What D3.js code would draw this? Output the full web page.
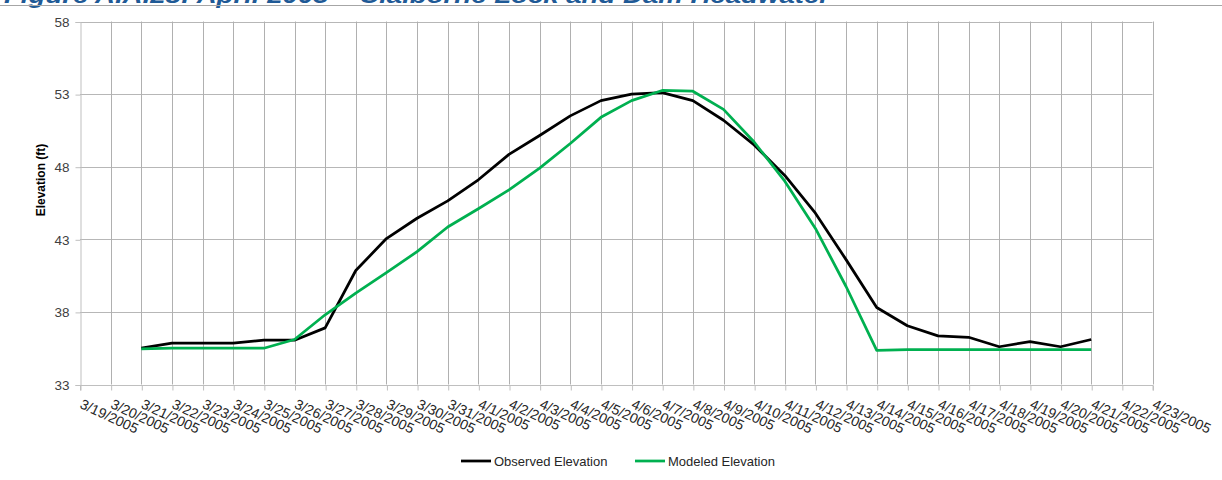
<!DOCTYPE html>
<html>
<head>
<meta charset="utf-8">
<script src="https://cdn.jsdelivr.net/npm/d3@7"></script>
<style>
  html, body { margin: 0; padding: 0; background: #fff; }
  svg { display: block; font-family: "Liberation Sans", Arial, sans-serif; }
</style>
</head>
<body>
<svg id="chart" width="1222" height="480"></svg>
<script>
const titleText = "Figure A.A.28: April 2005 \u2013 Claiborne Lock and Dam Headwater";
const dates = ["3/19/2005","3/20/2005","3/21/2005","3/22/2005","3/23/2005","3/24/2005","3/25/2005",
  "3/26/2005","3/27/2005","3/28/2005","3/29/2005","3/30/2005","3/31/2005","4/1/2005","4/2/2005",
  "4/3/2005","4/4/2005","4/5/2005","4/6/2005","4/7/2005","4/8/2005","4/9/2005","4/10/2005",
  "4/11/2005","4/12/2005","4/13/2005","4/14/2005","4/15/2005","4/16/2005","4/17/2005","4/18/2005",
  "4/19/2005","4/20/2005","4/21/2005","4/22/2005","4/23/2005"];
const observed = [null, null,
  35.5, 35.85, 35.85, 35.85, 36.05, 36.05, 36.9, 40.85, 43.05, 44.45, 45.65, 47.1, 48.85,
  50.15, 51.5, 52.55, 53.0, 53.1, 52.55, 51.2, 49.5, 47.4, 44.8, 41.6, 38.3, 37.05, 36.35,
  36.25, 35.6, 35.95, 35.6, 36.1, null, null];
const modeled = [null, null,
  35.45, 35.5, 35.5, 35.5, 35.5, 36.1, 37.8, 39.3, 40.7, 42.15, 43.85, 45.1, 46.4,
  47.9, 49.6, 51.4, 52.55, 53.25, 53.2, 51.95, 49.7, 47.0, 43.75, 39.75, 35.35, 35.4, 35.4,
  35.4, 35.4, 35.4, 35.4, 35.4, null, null];
const yTicks = [33, 38, 43, 48, 53, 58];
const seriesNames = ["Observed Elevation", "Modeled Elevation"];
const seriesColors = ["#000000", "#00b050"];
const yTitle = "Elevation (ft)";

const svg = d3.select("#chart");
const pLeft = 80, pRight = 1152.5, pTop = 21.5, pBottom = 384.5;

const x = d3.scalePoint().domain(dates).range([pLeft, pRight]);
const y = d3.scaleLinear().domain([33, 58]).range([pBottom, pTop]);

// title (mostly cut off at top)
svg.append("text")
  .attr("x", 4).attr("y", 3)
  .attr("textLength", 826).attr("lengthAdjust", "spacingAndGlyphs")
  .attr("font-size", 22).attr("font-weight", "bold").attr("font-style", "italic")
  .attr("fill", "#1f5a96")
  .text(titleText);
svg.append("line").attr("x1", 0).attr("x2", 1222).attr("y1", 5.5).attr("y2", 5.5)
  .attr("stroke", "#a6a6a6").attr("stroke-width", 1);

// horizontal gridlines
svg.append("g").selectAll("line").data(yTicks.slice(1)).join("line")
  .attr("x1", pLeft).attr("x2", pRight)
  .attr("y1", d => Math.round(y(d)) + 0.5).attr("y2", d => Math.round(y(d)) + 0.5)
  .attr("stroke", "#b7b7b7").attr("stroke-width", 1);

// vertical gridlines
svg.append("g").selectAll("line").data(dates.slice(1)).join("line")
  .attr("x1", d => Math.round(x(d)) + 0.5).attr("x2", d => Math.round(x(d)) + 0.5)
  .attr("y1", pTop).attr("y2", pBottom)
  .attr("stroke", "#b0b0b0").attr("stroke-width", 1);

// y axis
const yAxis = d3.axisLeft(y).tickValues(yTicks).tickSize(5).tickPadding(6);
const gy = svg.append("g").attr("transform", `translate(${pLeft + 0.5},0.5)`).call(yAxis);
gy.select(".domain").attr("stroke", "#bfbfbf");
gy.selectAll(".tick line").attr("stroke", "#bfbfbf");
gy.selectAll(".tick text").attr("font-size", 13.5).attr("fill", "#404040")
  .attr("font-family", "Liberation Sans, Arial, sans-serif");

// x axis
const xAxis = d3.axisBottom(x).tickSize(5).tickFormat(d => d);
const gx = svg.append("g").attr("transform", `translate(0.5,${Math.round(pBottom) + 0.5})`).call(xAxis);
gx.select(".domain").attr("stroke", "#bfbfbf").attr("d", `M${pLeft},5V0H${pRight}V5`);
gx.selectAll(".tick line").attr("stroke", "#bfbfbf");
gx.selectAll(".tick text")
  .attr("font-size", 14).attr("fill", "#262626")
  .attr("font-family", "Liberation Sans, Arial, sans-serif")
  .attr("text-anchor", "start")
  .attr("dy", null).attr("y", null)
  .attr("transform", "translate(-2,22) rotate(25)");

// y title
svg.append("text")
  .attr("transform", "translate(45,180) rotate(-90)")
  .attr("text-anchor", "middle")
  .attr("font-size", 12).attr("font-weight", "bold").attr("fill", "#000")
  .text(yTitle);

// lines
const line = d3.line()
  .defined(d => d.v != null)
  .x(d => x(d.date)).y(d => y(d.v));
[observed, modeled].forEach((vals, i) => {
  const data = dates.map((d, j) => ({date: d, v: vals[j]}));
  svg.append("path").datum(data)
    .attr("d", line)
    .attr("fill", "none")
    .attr("stroke", seriesColors[i])
    .attr("stroke-width", 2.75)
    .attr("stroke-linejoin", "round");
});

// legend
const legendX = [461, 635];
seriesNames.forEach((name, i) => {
  const g = svg.append("g").attr("transform", `translate(${legendX[i]},461)`);
  g.append("line").attr("x1", 0).attr("x2", 30).attr("y1", 0).attr("y2", 0)
    .attr("stroke", seriesColors[i]).attr("stroke-width", 2.75);
  g.append("text").attr("x", 33).attr("y", 4.5)
    .attr("font-size", 13).attr("fill", "#262626")
    .text(name);
});
</script>
</body>
</html>
